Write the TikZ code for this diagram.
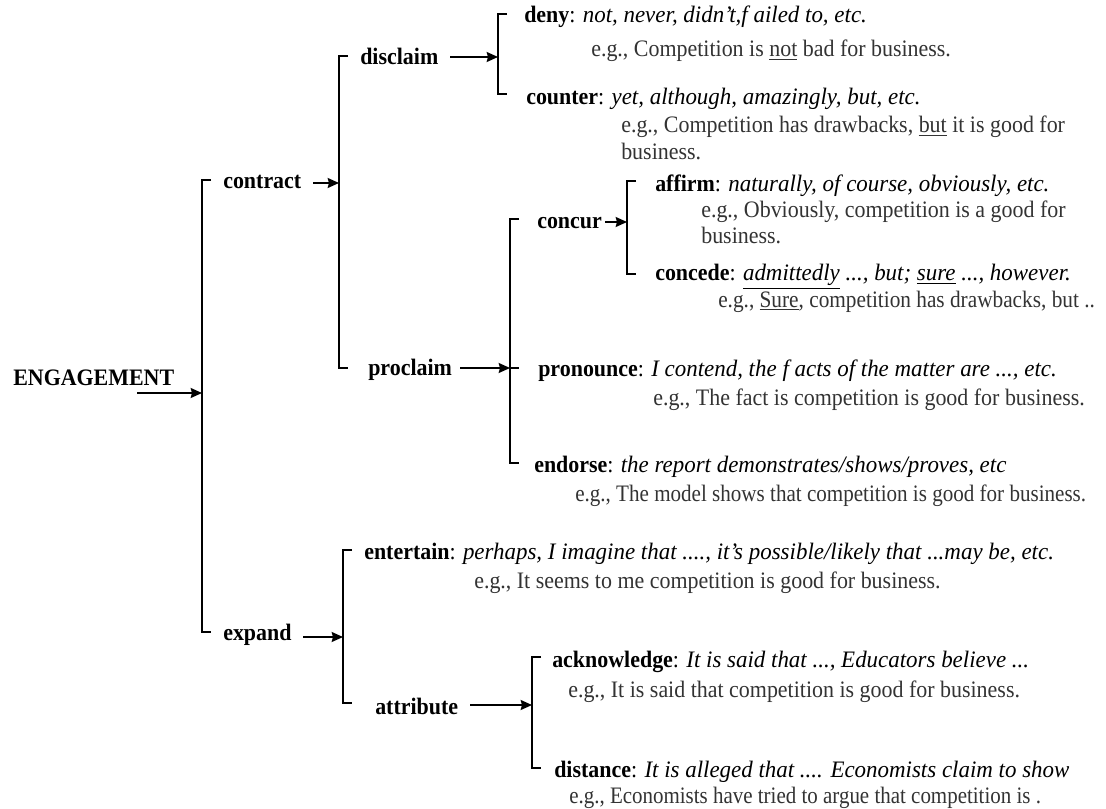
\documentclass[tikz,border=0pt]{standalone}
\usepackage{fontspec}
\usepackage{graphicx}
\setmainfont{Liberation Serif}[FakeStretch=0.93]
\usetikzlibrary{arrows.meta,calc}
\newcommand{\stretchit}[1]{\scalebox{1.045}[1]{#1}}
\begin{document}
\begin{tikzpicture}[x=0.75pt,y=-0.75pt,
  txt/.style={anchor=base west,inner sep=0pt,font=\fontsize{17.7}{20}\selectfont},
  lab/.style={txt,font=\fontsize{17.7}{20}\selectfont\bfseries},
  eg/.style={txt,text=black!80},
  br/.style={line width=1.3pt},
  arr/.style={line width=1.3pt,-{Stealth[length=8.5pt,width=7.5pt,inset=1pt]}}]
\useasboundingbox[fill=white] (0,0) rectangle (1106,809);

% labels
\node[lab] (eng) at (13,385) {ENGAGEMENT};
\node[lab] (contract) at (223,189) {contract};
\node[lab] (disclaim) at (360,65) {disclaim};
\node[lab] (proclaim) at (368,375) {proclaim};
\node[lab] (concur) at (537,229) {concur};
\node[lab] (expand) at (223,640) {expand};
\node[lab] (attribute) at (375,714) {attribute};

% leaves
\node[txt] (deny) at (524,23) {\textbf{deny}: \stretchit{\textit{not, never, didn’t,f ailed to, etc.}}};
\node[eg] (denyeg) at (591,57) {e.g., Competition is \underline{not} bad for business.};
\node[txt] (counter) at (526,105) {\textbf{counter}: \stretchit{\textit{yet, although, amazingly, but, etc.}}};
\node[eg] (countereg) at (621,133) {e.g., Competition has drawbacks, \underline{but} it is good for};
\node[eg] (countereg2) at (621,160) {business.};
\node[txt] (affirm) at (655,192) {\textbf{affirm}: \stretchit{\textit{naturally, of course, obviously, etc.}}};
\node[eg] (affirmeg) at (701,218) {e.g., Obviously, competition is a good for};
\node[eg] (affirmeg2) at (701,244) {business.};
\node[txt] (concede) at (655,281) {\textbf{concede}: \stretchit{\textit{\underline{admittedly} ..., but; \underline{sure} ..., however.}}};
\node[eg] (concedeeg) at (718,307) {\scalebox{0.97}[1]{e.g., \underline{Sure}, competition has drawbacks, but ..}};
\node[txt] (pronounce) at (538,376) {\textbf{pronounce}: \stretchit{\textit{I contend, the f acts of the matter are ..., etc.}}};
\node[eg] (pronounceeg) at (653,405) {e.g., The fact is competition is good for business.};
\node[txt] (endorse) at (534,472) {\textbf{endorse}: \stretchit{\textit{the report demonstrates/shows/proves, etc}}};
\node[eg] (endorseeg) at (575,501) {\scalebox{0.96}[1]{e.g., The model shows that competition is good for business.}};
\node[txt] (entertain) at (364,559) {\textbf{entertain}: \stretchit{\textit{perhaps, I imagine that ...., it’s possible/likely that ...may be, etc.}}};
\node[eg] (entertaineg) at (474,588) {e.g., It seems to me competition is good for business.};
\node[txt] (acknowledge) at (552,667) {\textbf{acknowledge}: \stretchit{\textit{It is said that ..., Educators believe ...}}};
\node[eg] (acknowledgeeg) at (568,697) {e.g., It is said that competition is good for business.};
\node[txt] (distance) at (554,777) {\textbf{distance}: \stretchit{\textit{It is alleged that .... Economists claim to show}}};
\node[eg] (distanceeg) at (569,803) {\scalebox{0.955}[1]{e.g., Economists have tried to argue that competition is .}};

% bracket corner coordinates
\coordinate (m1) at (202,180); \coordinate (m2) at (202,632); \coordinate (mm) at (202,393);
\coordinate (c1) at (339,56);  \coordinate (c2) at (339,368); \coordinate (cm) at (339,183);
\coordinate (d1) at (498,14);  \coordinate (d2) at (498,94);  \coordinate (dm) at (498,57);
\coordinate (p1) at (510,219); \coordinate (p2) at (510,463); \coordinate (pm) at (510,368);
\coordinate (q1) at (627,181); \coordinate (q2) at (627,274); \coordinate (qm) at (627,222);
\coordinate (e1) at (343,550); \coordinate (e2) at (343,703); \coordinate (em) at (343,637);
\coordinate (a1) at (532,657); \coordinate (a2) at (532,768); \coordinate (am) at (532,705);

% brackets
\draw[br] ($(m1)+(9,0)$) -- (m1) -- (m2) -- ++(9,0);
\draw[br] ($(c1)+(9,0)$) -- (c1) -- (c2) -- ++(9,0);
\draw[br] ($(d1)+(9,0)$) -- (d1) -- (d2) -- ++(9,0);
\draw[br] ($(p1)+(9,0)$) -- (p1) -- (p2) -- ++(9,0);
\draw[br] (pm) -- ++(9,0);
\draw[br] ($(q1)+(9,0)$) -- (q1) -- (q2) -- ++(9,0);
\draw[br] ($(e1)+(9,0)$) -- (e1) -- (e2) -- ++(9,0);
\draw[br] ($(a1)+(9,0)$) -- (a1) -- (a2) -- ++(9,0);

% arrows
\coordinate (t0) at (137,393);
\coordinate (t1) at (313,183);
\coordinate (t2) at (450,57);
\coordinate (t3) at (460,368);
\coordinate (t4) at (605,222);
\coordinate (t5) at (303,637);
\coordinate (t6) at (470,705);
\draw[arr] (t0) -- (mm);
\draw[arr] (t1) -- (cm);
\draw[arr] (t2) -- (dm);
\draw[arr] (t3) -- (pm);
\draw[arr] (t4) -- (qm);
\draw[arr] (t5) -- (em);
\draw[arr] (t6) -- (am);
\end{tikzpicture}
\end{document}
